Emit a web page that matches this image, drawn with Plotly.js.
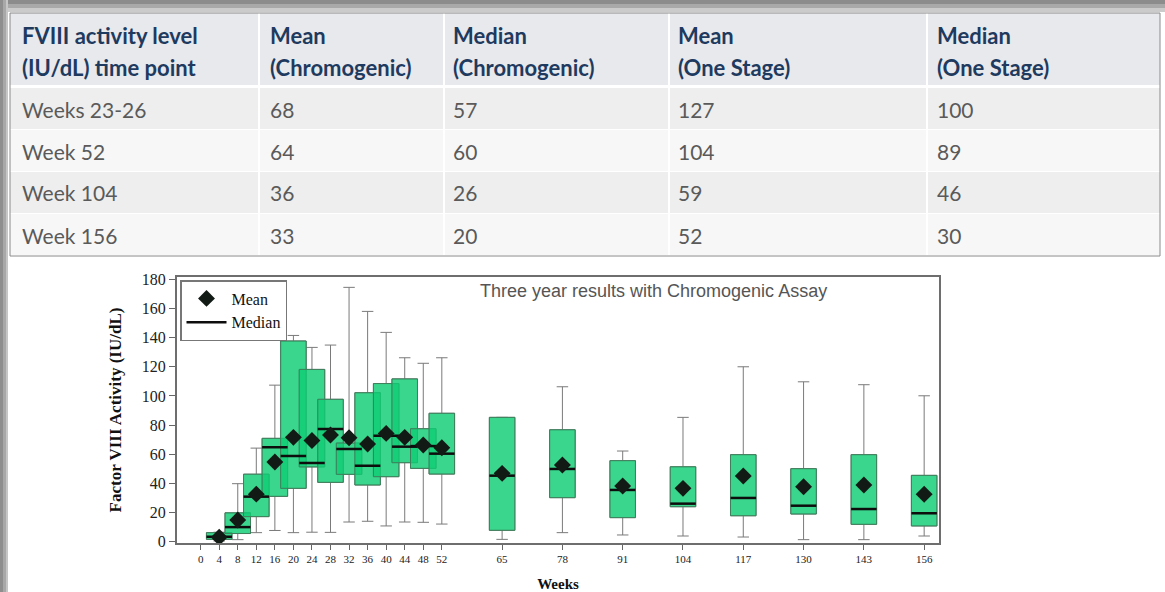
<!DOCTYPE html>
<html>
<head>
<meta charset="utf-8">
<script src="https://cdn.plot.ly/plotly-3.0.1.min.js"></script>
<style>
  html, body { margin: 0; padding: 0; background: #ffffff; }
  #chart { width: 1165px; height: 592px; }
</style>
</head>
<body>
<div id="chart"></div>
<script>
// ---------------- Table data ----------------
const headerLine1 = ["FVIII activity level", "Mean", "Median", "Mean", "Median"];
const headerLine2 = ["(IU/dL) time point", "(Chromogenic)", "(Chromogenic)", "(One Stage)", "(One Stage)"];
const timePoints = ["Weeks 23-26", "Week 52", "Week 104", "Week 156"];
const meanChromogenic = [68, 64, 36, 33];
const medianChromogenic = [57, 60, 26, 20];
const meanOneStage = [127, 104, 59, 52];
const medianOneStage = [100, 89, 46, 30];

// ---------------- Box plot data (Chromogenic assay, IU/dL) ----------------
const weeks       = [4, 8, 12, 16, 20, 24, 28, 32, 36, 40, 44, 48, 52, 65, 78, 91, 104, 117, 130, 143, 156];
const q1          = [1.6, 5.6, 17.2, 31.1, 36.6, 51.3, 40.7, 46.2, 38.9, 44.6, 54.2, 50.3, 46.4, 7.8, 30.2, 16.5, 24.0, 17.8, 19.0, 11.9, 10.8];
const medians     = [3.4, 10.0, 30.9, 64.8, 58.8, 54.0, 77.3, 63.6, 52.1, 72.7, 65.2, 65.6, 60.4, 45.3, 49.9, 35.5, 26.1, 30.0, 24.7, 22.4, 19.5];
const q3          = [6.2, 19.8, 46.3, 70.9, 137.7, 118.2, 97.7, 67.7, 102.2, 108.5, 111.7, 77.5, 88.1, 85.3, 76.8, 55.6, 51.4, 59.7, 50.1, 59.7, 45.5];
const means       = [3.0, 14.9, 32.6, 54.7, 71.6, 69.4, 73.2, 71.3, 67.0, 74.3, 71.6, 66.3, 64.5, 46.9, 52.6, 38.2, 36.6, 45.1, 37.7, 38.9, 32.5];
const upperFence  = [6.5, 39.8, 64.2, 107.4, 141.5, 133.3, 134.9, 174.5, 158.0, 143.6, 126.2, 122.4, 126.2, 85.3, 106.3, 62.2, 85.3, 120.0, 109.7, 107.7, 100.1];
const lowerFence  = [0.5, 1.4, 6.2, 7.7, 6.2, 6.5, 6.4, 13.5, 14.0, 10.8, 13.5, 13.3, 12.1, 1.6, 6.2, 4.6, 3.9, 3.2, 1.4, 1.4, 3.9];
const xTickVals   = [0, 4, 8, 12, 16, 20, 24, 28, 32, 36, 40, 44, 48, 52, 65, 78, 91, 104, 117, 130, 143, 156];

// ---------------- Layout geometry ----------------
const W = 1165, H = 592;
const M = { l: 177, r: 226, t: 277, b: 49 };
const PW = W - M.l - M.r, PH = H - M.t - M.b;
const fx = px => (px - M.l) / PW;
const fy = py => (H - M.b - py) / PH;

const BOX_W = 5.5;
const serif = "Liberation Serif, Times New Roman, serif";
const tableFont = "Lato, Open Sans, sans-serif";

// median segments built from the data
const medX = [], medY = [];
weeks.forEach((w, i) => {
  medX.push(w - BOX_W / 2, w + BOX_W / 2, null);
  medY.push(medians[i], medians[i], null);
});

const traces = [
  { // whiskers
    type: "box", x: weeks, q1: q1, median: medians, q3: q3,
    lowerfence: lowerFence, upperfence: upperFence,
    width: BOX_W, whiskerwidth: 0.45,
    fillcolor: "rgba(0,0,0,0)", line: { color: "#7a7a7a", width: 1 },
    showlegend: false, hoverinfo: "skip"
  },
  { // boxes
    type: "box", x: weeks, q1: q1, median: medians, q3: q3,
    lowerfence: q1, upperfence: q3,
    width: BOX_W, whiskerwidth: 0,
    fillcolor: "rgba(16,205,116,0.82)", line: { color: "#3f7f5c", width: 1 },
    showlegend: false, hoverinfo: "skip"
  },
  {
    type: "scatter", mode: "lines", x: medX, y: medY, name: "Median",
    line: { color: "#0d0d0d", width: 2.5 }, legendrank: 2, hoverinfo: "skip"
  },
  {
    type: "scatter", mode: "markers", x: weeks, y: means, name: "Mean",
    marker: { symbol: "diamond", size: 13, color: "#111a14" }, legendrank: 1, hoverinfo: "skip"
  }
];

// ---------------- Table shapes & annotations ----------------
const shapes = [];
const annotations = [];
const rect = (x0, y0, x1, y1, fill, line) => shapes.push({
  type: "rect", xref: "paper", yref: "paper",
  x0: fx(x0), x1: fx(x1), y0: fy(y1), y1: fy(y0),
  fillcolor: fill, line: line || { width: 0 }, layer: "below"
});

// slide frame (grey edges)
rect(0, 0, W, 4, "#8c8c8c");
rect(0, 4, W, 8, "#a9a9a9");
rect(0, 8, W, 12, "#cbcbcb");
rect(0, 0, 3, H, "#8e8e8e");
rect(3, 0, 6, H, "#a8a8a8");
rect(6, 0, 8, H, "#c6c6c6");

// table backgrounds
rect(10, 13, 1160, 85, "#e8e9ec");
const rowTop = [88, 130, 172, 214];
const rowFill = ["#eeeeee", "#f7f7f7", "#eeeeee", "#f7f7f7"];
rowTop.forEach((y, i) => rect(10, y, 1160, y + 41, rowFill[i]));
[258, 443, 668, 926].forEach(x => rect(x, 13, x + 2, 256, "#ffffff"));
rect(10, 13, 1160, 256, "rgba(0,0,0,0)", { color: "#8a8a8a", width: 1 });

const colX = [22, 270, 453, 678, 937];
const addText = (text, px, py, opts) => annotations.push(Object.assign({
  text: text, xref: "paper", yref: "paper", x: fx(px), y: fy(py),
  xanchor: "left", yanchor: "middle", showarrow: false, borderpad: 0
}, opts));

colX.forEach((x, c) => {
  addText("<b>" + headerLine1[c] + "</b>", x - 1, 35, { font: { family: tableFont, size: 22, color: "#1e3a5f" } });
  addText("<b>" + headerLine2[c] + "</b>", x - 1, 67, { font: { family: tableFont, size: 22, color: "#1e3a5f" } });
});
const bodyCols = [timePoints, meanChromogenic, medianChromogenic, meanOneStage, medianOneStage];
timePoints.forEach((_, r) => {
  bodyCols.forEach((col, c) => {
    addText(String(col[r]), colX[c] - 1, 109 + 42 * r, { font: { family: tableFont, size: 21, color: "#5a5a5a" } });
  });
});

// chart title
annotations.push({
  text: "Three year results with Chromogenic Assay", xref: "paper", yref: "paper",
  x: fx(653), y: fy(291), xanchor: "center", yanchor: "middle", showarrow: false,
  font: { family: "Liberation Sans, Arial, sans-serif", size: 18, color: "#555555" }
});

const layout = {
  width: W, height: H,
  margin: M,
  paper_bgcolor: "#ffffff", plot_bgcolor: "#ffffff",
  showlegend: true,
  legend: {
    x: fx(180), y: fy(280), xanchor: "left", yanchor: "top",
    bgcolor: "#ffffff", bordercolor: "#777777", borderwidth: 1.5,
    font: { family: serif, size: 16, color: "#111111" },
    tracegroupgap: 0, itemwidth: 40
  },
  xaxis: {
    range: [-5.1, 159.2], tickmode: "array", tickvals: xTickVals,
    ticktext: xTickVals.map(String),
    ticks: "outside", ticklen: 5, tickcolor: "#666666", tickwidth: 1,
    tickfont: { family: serif, size: 11, color: "#222222" },
    showline: true, mirror: true, linecolor: "#6e6e6e", linewidth: 2,
    showgrid: false, zeroline: false,
    title: { text: "<b>Weeks</b>", font: { family: serif, size: 15, color: "#111111" }, standoff: 14 }
  },
  yaxis: {
    range: [-0.9, 181.6], tick0: 0, dtick: 20,
    ticks: "outside", ticklen: 6, tickcolor: "#666666", tickwidth: 1,
    tickfont: { family: serif, size: 16, color: "#222222" },
    showline: true, mirror: true, linecolor: "#6e6e6e", linewidth: 2,
    showgrid: false, zeroline: false,
    title: { text: "<b>Factor VIII Activity (IU/dL)</b>", font: { family: serif, size: 17, color: "#111111" }, standoff: 16 }
  },
  shapes: shapes,
  annotations: annotations
};

Plotly.newPlot("chart", traces, layout, { displayModeBar: false, staticPlot: true });
</script>
</body>
</html>
